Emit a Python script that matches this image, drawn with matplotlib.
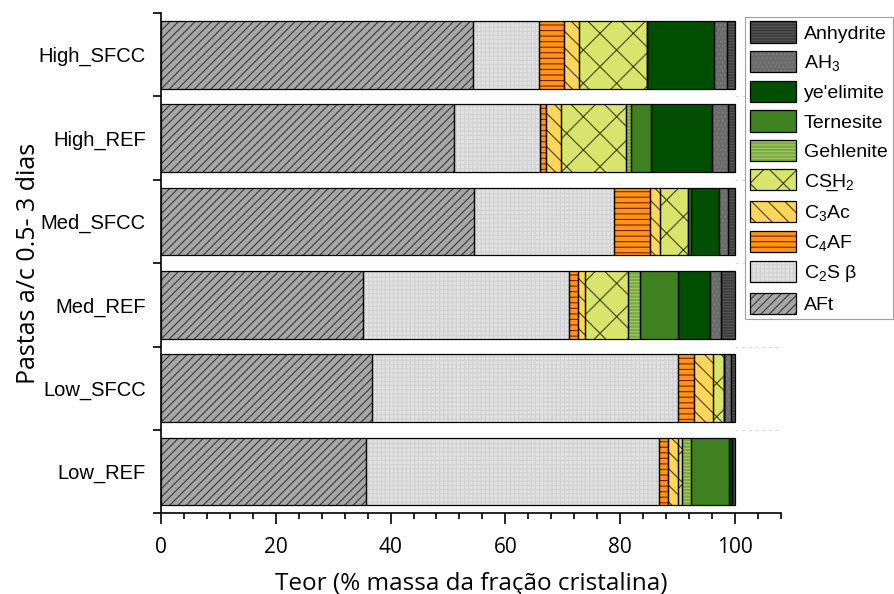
import numpy as np
import matplotlib.pyplot as plt
from matplotlib.patches import Patch
from matplotlib.ticker import MultipleLocator, FixedLocator

plt.rcParams['hatch.linewidth'] = 0.8
plt.rcParams['mathtext.fontset'] = 'custom'
plt.rcParams['mathtext.rm'] = 'Liberation Sans'
plt.rcParams['mathtext.it'] = 'Liberation Sans:italic'

samples = ['High_SFCC', 'High_REF', 'Med_SFCC', 'Med_REF', 'Low_SFCC', 'Low_REF']
phases = ['AFt', 'C$_2$S β', 'C$_4$AF', 'C$_3$Ac', 'CS\u0332H$_2$',
          'Gehlenite', 'Ternesite', "ye'elimite", 'AH$_3$', 'Anhydrite']

aft        = [54.4, 51.1, 54.5, 35.2, 36.8, 35.7]
c2s        = [11.5, 15.0, 24.4, 35.8, 53.2, 51.1]
c4af       = [4.3, 0.9, 6.3, 1.7, 2.9, 1.6]
c3ac       = [2.7, 2.7, 1.8, 1.2, 3.3, 1.7]
csh2       = [11.8, 11.4, 4.8, 7.5, 1.9, 0.7]
gehlenite  = [0.0, 0.8, 0.0, 2.0, 0.0, 1.5]
ternesite  = [0.0, 3.5, 0.5, 6.7, 0.0, 6.7]
yeelimite  = [11.7, 10.6, 5.0, 5.5, 0.0, 0.4]
ah3        = [2.2, 2.7, 1.5, 2.0, 1.2, 0.0]
anhydrite  = [1.4, 1.3, 1.2, 2.4, 0.7, 0.6]

series = [aft, c2s, c4af, c3ac, csh2, gehlenite, ternesite, yeelimite, ah3, anhydrite]
faces = ['#a6a6a6', '#e2e2e2', '#ff9418', '#ffd65c', '#d9e46c',
         '#7aab3e', '#3f8020', '#004f00', '#6b6b6b', '#3d3d3d']
hatches = ['////', '++++', '---', '\\\\', 'x', '-----', '', '', '....', '------']
hcolors = ['#3a3a3a', '#d2d2d2', '#7a2000', '#4a3c00', '#3c4210',
           '#a6c870', '#3f8020', '#004f00', '#7d7d7d', '#555555']

fig = plt.figure(figsize=(8.94, 5.94), dpi=100)
ax = fig.add_axes([0.180, 0.136, 0.6935, 0.842])

y = np.arange(len(samples))
left = np.zeros(len(samples))
handles = []
for vals, fc, h, hc, name in zip(series, faces, hatches, hcolors, phases):
    vals = np.array(vals)
    ax.barh(y, vals, left=left, height=0.81, color=fc, hatch=h,
            edgecolor=hc, linewidth=0, zorder=2)
    ax.barh(y, vals, left=left, height=0.81, fill=False,
            edgecolor='black', linewidth=0.9, zorder=3)
    left += vals
    handles.append((Patch(facecolor=fc, hatch=h, edgecolor=hc, linewidth=0),
                    Patch(fill=False, edgecolor='black', linewidth=0.9)))

# faint separators right of the bars
for b in np.arange(0.5, len(samples) - 1, 1.0):
    ax.plot([100, 108], [b, b], color='#dddddd', lw=0.8, ls=(0, (3, 3)), zorder=1)

ax.set_xlim(0, 108)
ax.set_ylim(len(samples) - 0.5, -0.5)
ax.set_yticks(y)
ax.set_yticklabels(samples, family='Liberation Sans', fontsize=14.5)
ax.yaxis.set_minor_locator(FixedLocator(np.arange(-0.5, len(samples), 1.0)))
ax.tick_params(axis='y', which='major', length=0, pad=11)
ax.tick_params(axis='y', which='minor', length=6, width=1.2, direction='out')

ax.xaxis.set_major_locator(MultipleLocator(20))
ax.xaxis.set_minor_locator(MultipleLocator(4))
ax.tick_params(axis='x', which='major', length=8, width=1.2, pad=9)
ax.tick_params(axis='x', which='minor', length=4, width=1.2)
for lab in ax.get_xticklabels():
    lab.set_family(['Liberation Sans Narrow', 'Open Sans'])
    lab.set_fontsize(15)

for s in ['top', 'right']:
    ax.spines[s].set_visible(False)
for s in ['left', 'bottom']:
    ax.spines[s].set_linewidth(1.2)

ax.set_xlabel('Teor (% massa da fração cristalina)', family='Open Sans',
              fontsize=17.5, labelpad=10)
ax.set_ylabel('Pastas a/c 0.5- 3 dias', family='Open Sans', fontsize=18,
              labelpad=-2)

leg = fig.legend(handles[::-1], phases[::-1], loc='upper left',
                 bbox_to_anchor=(0.833, 0.972), frameon=True, fancybox=False,
                 edgecolor='#888888', handlelength=2.4, handleheight=1.3,
                 labelspacing=0.42, handletextpad=0.4, borderpad=0.25,
                 borderaxespad=0,
                 prop={'family': ['Liberation Sans', 'DejaVu Sans'], 'size': 14})
leg.get_frame().set_linewidth(0.8)

fig.savefig('out.png', dpi=100)
